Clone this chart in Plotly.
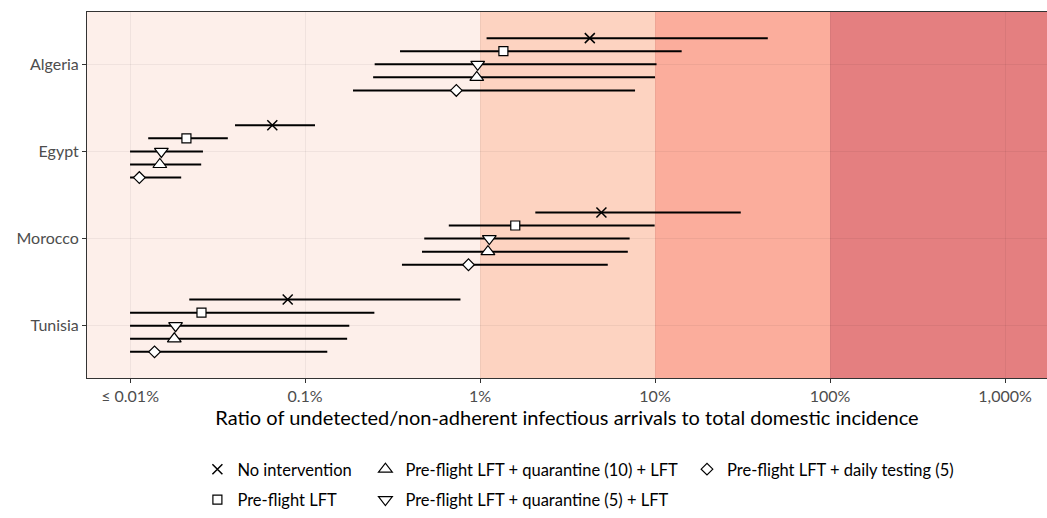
import plotly.graph_objects as go

COUNTRIES = ["Algeria", "Egypt", "Morocco", "Tunisia"]

# ratio (%) of undetected/non-adherent arrivals to domestic incidence,
# lower bounds below 0.01% are shown clamped at 0.01%
no_int_mid = [4.24, 0.065, 4.94, 0.0796]
no_int_lo = [1.09, 0.0398, 2.07, 0.0218]
no_int_hi = [44.1, 0.114, 30.9, 0.773]

pre_lft_mid = [1.36, 0.021, 1.59, 0.0256]
pre_lft_lo = [0.349, 0.0127, 0.663, 0.01]
pre_lft_hi = [14.2, 0.0362, 9.95, 0.249]

quar10_mid = [0.958, 0.0148, 1.11, 0.0179]
quar10_lo = [0.245, 0.01, 0.466, 0.01]
quar10_hi = [10.0, 0.0255, 6.99, 0.174]

quar5_mid = [0.97, 0.0151, 1.13, 0.0182]
quar5_lo = [0.25, 0.01, 0.48, 0.01]
quar5_hi = [10.2, 0.0261, 7.16, 0.179]

daily_mid = [0.732, 0.0113, 0.859, 0.0138]
daily_lo = [0.188, 0.01, 0.358, 0.01]
daily_hi = [7.69, 0.0196, 5.37, 0.134]

TICK_VALS = [0.01, 0.1, 1, 10, 100, 1000]
TICK_TEXT = ["≤ 0.01%", "0.1%", "1%", "10%", "100%", "1,000%"]

BAND_EDGES = [0.001, 1, 10, 100, 100000]
BAND_COLORS = ["#FDEFEA", "#FDD3C1", "#FBAD9C", "#E47F80"]

# name, mid, lo, hi, symbol, dodge offset, legend
SERIES = [
    ("No intervention", no_int_mid, no_int_lo, no_int_hi, "x-thin", -0.3, "legend"),
    ("Pre-flight LFT", pre_lft_mid, pre_lft_lo, pre_lft_hi, "square", -0.15, "legend"),
    ("Pre-flight LFT + quarantine (10) + LFT", quar10_mid, quar10_lo, quar10_hi,
     "triangle-up", 0.15, "legend2"),
    ("Pre-flight LFT + quarantine (5) + LFT", quar5_mid, quar5_lo, quar5_hi,
     "triangle-down", 0.0, "legend2"),
    ("Pre-flight LFT + daily testing (5)", daily_mid, daily_lo, daily_hi,
     "diamond", 0.3, "legend3"),
]
SIZES = {"x-thin": 10, "square": 9, "triangle-up": 12, "triangle-down": 12, "diamond": 9}

FONT = "Lato"
GRID = "rgba(0,0,0,0.05)"

fig = go.Figure()

for x0, x1, col in zip(BAND_EDGES[:-1], BAND_EDGES[1:], BAND_COLORS):
    fig.add_shape(type="rect", xref="x", yref="paper", x0=x0, x1=x1, y0=0, y1=1,
                  fillcolor=col, line_width=0, layer="below")

for name, mid, lo, hi, sym, off, leg in SERIES:
    ys = [i + off for i in range(len(COUNTRIES))]
    xl, yl = [], []
    for a, b, y in zip(lo, hi, ys):
        xl += [a, b, None]
        yl += [y, y, None]
    fig.add_trace(go.Scatter(
        x=xl, y=yl, mode="lines", line=dict(color="black", width=2),
        showlegend=False, hoverinfo="skip",
    ))
    if sym == "x-thin":
        marker = dict(symbol=sym, size=SIZES[sym], color="black",
                      line=dict(color="black", width=1.5))
    else:
        marker = dict(symbol=sym, size=SIZES[sym], color="white",
                      line=dict(color="black", width=1.2))
    fig.add_trace(go.Scatter(
        x=mid, y=ys, mode="markers", name=name, marker=marker,
        legend=leg, legendgroup=name,
        hovertemplate=name + "<br>%{x:.3f}%<extra></extra>",
    ))

# three legend columns under the plot
legend_style = dict(
    orientation="v", yanchor="top", y=-0.202, xanchor="left",
    font=dict(family=FONT, size=16.5, color="black"),
    bgcolor="rgba(0,0,0,0)", tracegroupgap=6, itemclick=False,
)

axis_style = dict(
    showline=True, mirror=True, linecolor="#333333", linewidth=1,
    ticks="outside", ticklen=4, tickcolor="#333333",
    showgrid=True, gridcolor=GRID, gridwidth=1, zeroline=False,
    tickfont=dict(family=FONT, size=16, color="#4D4D4D"),
    automargin=False,
)

fig.update_layout(
    width=1047, height=518,
    margin=dict(l=87, r=0, t=12, b=140, autoexpand=False),
    paper_bgcolor="white", plot_bgcolor="white",
    font=dict(family=FONT, color="black"),
    legend=dict(legend_style, x=0.115),
    legend2=dict(legend_style, x=0.29),
    legend3=dict(legend_style, x=0.625),
    xaxis=dict(
        axis_style,
        type="log", range=[-2.246, 3.24],
        tickvals=TICK_VALS, ticktext=TICK_TEXT,
        title=dict(
            text="Ratio of undetected/non-adherent infectious arrivals to total domestic incidence",
            font=dict(family=FONT, size=20, color="black"), standoff=6,
        ),
    ),
    yaxis=dict(
        axis_style,
        range=[3.6, -0.6],
        tickvals=list(range(len(COUNTRIES))), ticktext=COUNTRIES,
    ),
)

fig.write_html(
    "out.html",
    config={"displayModeBar": False},
    post_script="document.body.style.margin='0';",
)
